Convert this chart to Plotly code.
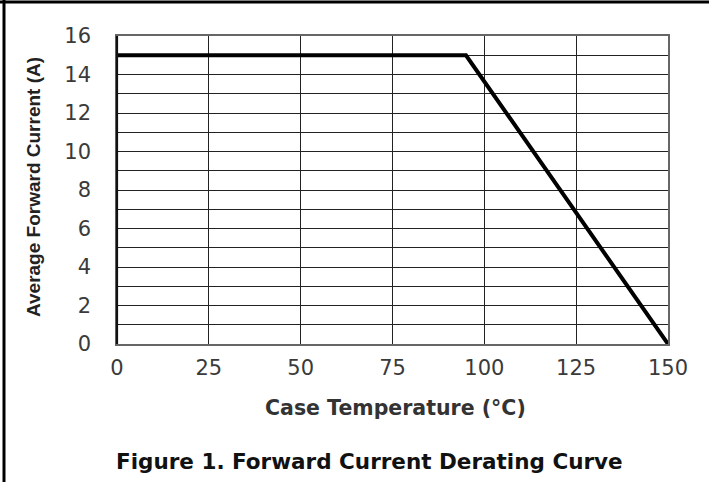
import plotly.graph_objects as go

# Data
temperature_c = [0, 95, 150]
avg_forward_current_a = [15, 15, 0]
x_tick_vals = [0, 25, 50, 75, 100, 125, 150]
y_tick_vals = [0, 2, 4, 6, 8, 10, 12, 14, 16]

W, H = 709, 482
L, R, T, B = 117, 668, 36, 344

def px(x):
    return (x - L) / (R - L)

def py(y):
    return (B - y) / (B - T)

fig = go.Figure()
fig.add_trace(go.Scatter(
    x=temperature_c, y=avg_forward_current_a, mode="lines",
    line=dict(color="#000000", width=4), showlegend=False, hoverinfo="skip",
))

tick_font = dict(family="DejaVu Sans", size=21, color="#3a3a3a")
grid_c = "#222222"

fig.update_layout(
    width=W, height=H,
    margin=dict(l=L, r=W - R, t=T, b=H - B),
    paper_bgcolor="white", plot_bgcolor="white",
    xaxis=dict(
        range=[0, 150], tickvals=x_tick_vals, showgrid=True,
        gridcolor=grid_c, gridwidth=1.4, zeroline=False,
        showline=True, linecolor="#666666", linewidth=1.5, mirror=True,
        tickfont=tick_font, ticks="", ticklabelstandoff=4,
    ),
    yaxis=dict(
        range=[0, 16], tickvals=y_tick_vals, showgrid=True,
        gridcolor=grid_c, gridwidth=1.4, zeroline=False,
        minor=dict(dtick=1, showgrid=True, gridcolor=grid_c, gridwidth=1.4),
        showline=True, linecolor="#666666", linewidth=1.5, mirror=True,
        tickfont=tick_font, ticks="", ticklabelstandoff=20,
    ),
    shapes=[
        dict(type="line", xref="paper", yref="paper", x0=px(0), x1=px(W), y0=py(2), y1=py(2),
             line=dict(color="black", width=3)),
        dict(type="line", xref="paper", yref="paper", x0=px(4), x1=px(4), y0=py(0), y1=py(H),
             line=dict(color="black", width=3)),
        dict(type="line", xref="paper", yref="paper", x0=0, x1=0, y0=0, y1=1,
             line=dict(color="#111111", width=2.2)),
    ],
    annotations=[
        dict(text="<b>Average Forward Current (A)</b>", xref="paper", yref="paper",
             x=px(33), y=py(187), textangle=-90, showarrow=False,
             font=dict(family="Liberation Sans", size=19, color="#222222"),
             xanchor="center", yanchor="middle"),
        dict(text="<b>Case Temperature (°C)</b>", xref="paper", yref="paper",
             x=px(395), y=py(408), showarrow=False,
             font=dict(family="DejaVu Sans", size=20.5, color="#333333"),
             xanchor="center", yanchor="middle"),
        dict(text="<b>Figure 1. Forward Current Derating Curve</b>", xref="paper", yref="paper",
             x=px(369), y=py(461), showarrow=False,
             font=dict(family="DejaVu Sans", size=21.5, color="#111111"),
             xanchor="center", yanchor="middle"),
    ],
)

fig.write_html("out.html", config={"displayModeBar": False},
               post_script="document.body.style.margin='0px';")
